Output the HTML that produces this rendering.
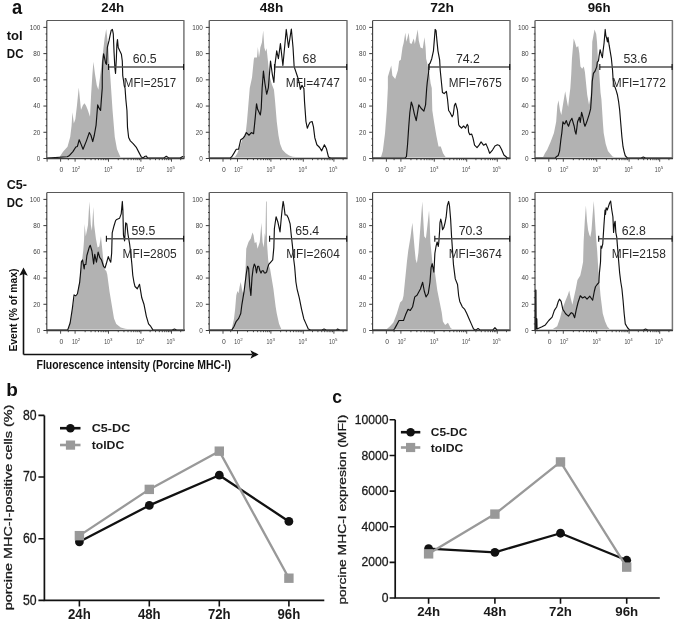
<!DOCTYPE html>
<html><head><meta charset="utf-8"><style>
html,body{margin:0;padding:0;background:#fff;width:675px;height:622px;overflow:hidden}
svg{display:block;filter:grayscale(1)}
text{font-family:"Liberation Sans", sans-serif}
</style></head><body>
<svg width="675" height="622" viewBox="0 0 675 622">
<rect width="675" height="622" fill="#fff"/>
<path d="M59.63,157 L59.63,157 L63.01,151.86 L67.51,146.7 L70.21,137.04 L71.56,125.79 L72.46,112.28 L73.81,123.54 L75.39,119.04 L76.96,105.53 L78.76,87.52 L79.89,98.78 L81.01,110.03 L82.81,105.53 L84.39,103.28 L85.96,105.53 L87.77,110.03 L90.02,116.78 L91.14,94.28 L92.27,76.27 L93.39,61.64 L94.97,74.02 L96.77,85.27 L98.34,89.77 L100.14,76.27 L101.72,62.77 L103.07,51.51 L104.65,38.01 L106.22,29 L108.02,44.76 L110.27,76.27 L112.52,110.03 L114.77,137.04 L117.03,149.28 L120.4,157 L120.4,157 Z" fill="#b2b2b2" stroke="none"/>
<path d="M47,158.1 L67.28,156.76 L69.53,155.47 L72.91,151.6 L75.84,146.96 L77.41,146.44 L79.21,139.74 L81.01,144.12 L83.04,149.28 L86.41,140.87 L89.34,132.54 L90.92,135.24 L92.72,141.54 L94.29,135.24 L96.09,125.11 L97.67,104.86 L99.47,108.91 L100.59,110.48 L101.14,102.6 L102.26,87.97 L102.26,75.59 L102.85,60.96 L103.61,53.76 L104.51,57.59 L105.64,63.22 L106.54,64.34 L107.35,47.46 L109.01,40.71 L110.14,35.08 L111.26,30.13 L112.39,29.45 L113.29,33.95 L114.1,53.09 L114.86,67.72 L115.54,73.34 L116.35,58.71 L116.89,44.08 L117.48,39.58 L118.24,47.46 L119.73,50.84 L121.39,54.21 L122.29,60.96 L122.74,75.59 L123.64,81.22 L124.23,85.72 L125.04,87.97 L125.83,99.23 L126.95,110.48 L127.51,127.36 L128.64,137.49 L130.33,140.87 L133.14,143.61 L136.52,147.73 L138.77,152.12 L141.33,157.02 L143.14,158.1 L144.49,156.51 L146.29,155.99 L147.64,158.1 L163.62,158.1 L166.32,156.25 L169.02,158.1 L180.05,158.1 L182.75,156.51 L185,157.02" fill="none" stroke="#111" stroke-width="1.15" stroke-linejoin="round"/>
<path d="M47.0,20.5 H184.3" fill="none" stroke="#595959" stroke-width="1.2"/>
<path d="M183.9,20.5 V158.5" fill="none" stroke="#767676" stroke-width="1.5"/>
<path d="M46.8,20.5 V159.0" fill="none" stroke="#3a3a3a" stroke-width="1.1"/>
<path d="M46.5,158.5 H184.4" fill="none" stroke="#3a3a3a" stroke-width="1.3"/>
<path d="M43.4,158.5 H47.0 M45.6,151.94 H47.0 M45.6,145.39 H47.0 M45.6,138.84 H47.0 M43.4,132.28 H47.0 M45.6,125.72 H47.0 M45.6,119.17 H47.0 M45.6,112.62 H47.0 M43.4,106.06 H47.0 M45.6,99.5 H47.0 M45.6,92.95 H47.0 M45.6,86.4 H47.0 M43.4,79.84 H47.0 M45.6,73.28 H47.0 M45.6,66.73 H47.0 M45.6,60.18 H47.0 M43.4,53.62 H47.0 M45.6,47.06 H47.0 M45.6,40.51 H47.0 M45.6,33.96 H47.0 M43.4,27.4 H47.0" stroke="#3a3a3a" stroke-width="1"/>
<text x="40.4" y="160.8" text-anchor="end" font-size="6.4" fill="#444">0</text>
<text x="40.4" y="134.58" text-anchor="end" font-size="6.4" fill="#444">20</text>
<text x="40.4" y="108.36" text-anchor="end" font-size="6.4" fill="#444">40</text>
<text x="40.4" y="82.14" text-anchor="end" font-size="6.4" fill="#444">60</text>
<text x="40.4" y="55.92" text-anchor="end" font-size="6.4" fill="#444">80</text>
<text x="40.4" y="29.7" text-anchor="end" font-size="6.4" fill="#444">100</text>
<path d="M47.1,158.5 v3.2 M60.6,158.5 v3.2 M75.1,158.5 v3.2 M108.5,158.5 v3.2 M140.9,158.5 v3.2 M171.5,158.5 v3.2 M68.3,158.5 v1.7 M85.15,158.5 v1.7 M91.04,158.5 v1.7 M95.21,158.5 v1.7 M98.45,158.5 v1.7 M101.09,158.5 v1.7 M103.33,158.5 v1.7 M105.26,158.5 v1.7 M106.97,158.5 v1.7 M118.25,158.5 v1.7 M123.96,158.5 v1.7 M128.01,158.5 v1.7 M131.15,158.5 v1.7 M133.71,158.5 v1.7 M135.88,158.5 v1.7 M137.76,158.5 v1.7 M139.42,158.5 v1.7 M150.11,158.5 v1.7 M155.5,158.5 v1.7 M159.32,158.5 v1.7 M162.29,158.5 v1.7 M164.71,158.5 v1.7 M166.76,158.5 v1.7 M168.53,158.5 v1.7 M170.1,158.5 v1.7 M180.71,158.5 v1.7" stroke="#3a3a3a" stroke-width="0.9"/>
<text x="61.4" y="171.7" text-anchor="middle" font-size="6.8" fill="#444">0</text>
<text x="71.9" y="171.7" font-size="6.8" fill="#444" textLength="5.8" lengthAdjust="spacingAndGlyphs">10</text>
<text x="77.8" y="168.8" font-size="4.4" fill="#444">2</text>
<text x="104.2" y="171.7" font-size="6.8" fill="#444" textLength="5.8" lengthAdjust="spacingAndGlyphs">10</text>
<text x="110.1" y="168.8" font-size="4.4" fill="#444">3</text>
<text x="136.2" y="171.7" font-size="6.8" fill="#444" textLength="5.8" lengthAdjust="spacingAndGlyphs">10</text>
<text x="142.1" y="168.8" font-size="4.4" fill="#444">4</text>
<text x="166.6" y="171.7" font-size="6.8" fill="#444" textLength="5.8" lengthAdjust="spacingAndGlyphs">10</text>
<text x="172.5" y="168.8" font-size="4.4" fill="#444">5</text>
<path d="M108.5,67 H183.9" stroke="#505050" stroke-width="1.4" fill="none"/>
<path d="M108.5,64 v6 M183.6,64 v6" stroke="#111" stroke-width="1.1" fill="none"/>
<text x="144.7" y="63" text-anchor="middle" font-size="12.3" fill="#2a2a2a">60.5</text>
<text x="123.8" y="86.8" font-size="12.3" fill="#2a2a2a" textLength="52.4" lengthAdjust="spacingAndGlyphs">MFI=2517</text>
<path d="M234.01,157 L234.01,157 L235.14,156.76 L237.39,153.15 L240.76,144.12 L243.01,137.49 L245.83,131.86 L246.95,121.74 L248.08,108.23 L249.2,94.73 L249.77,87.97 L252.02,77.4 L253.82,59.39 L254.27,57.59 L256.97,57.59 L257.87,47.01 L258.99,57.59 L259.89,51.51 L260.34,47.46 L261.92,42.51 L263.2,30.58 L264.33,47.46 L265.52,51.51 L266.58,48.14 L267.7,58.71 L269.35,75.59 L271.82,84.15 L273.96,89.77 L275.09,101.48 L276.77,121.74 L278.46,135.24 L280.15,144.12 L282.4,149.8 L285.78,153.15 L289.15,155.47 L292.53,156.76 L295.91,157 L295.91,157 Z" fill="#b2b2b2" stroke="none"/>
<path d="M209.4,158.1 L229.96,158.1 L231.76,156.76 L234.01,153.15 L236.26,149.28 L238.51,149.28 L240.76,139.74 L243.01,138.17 L244.59,136.37 L246.39,132.54 L249.09,135.24 L251.34,132.54 L253.59,133.67 L254.49,125.11 L255.39,116.11 L256.52,103.73 L257.64,109.36 L260.34,114.98 L261.24,108.23 L262.14,87.97 L263.43,71.09 L264.85,83.02 L266.65,94.28 L268.33,87.97 L270.52,60.96 L272.27,74.02 L273.89,82.35 L275.02,64.34 L276.71,50.84 L278.4,58.71 L280.42,43.63 L282.9,65.47 L286.27,29.45 L288.52,47.46 L291.34,29 L293.03,47.46 L294.15,66.59 L297.53,76.72 L299.28,83.02 L300.41,89.32 L301.98,85.27 L303.9,88.65 L304.57,102.38 L305.95,121.51 L307.32,128.26 L308.74,124.66 L310.06,122.19 L312.11,121.51 L313.46,126.91 L314.84,137.94 L316.88,144.77 L319.63,147.48 L321.68,150.83 L322.92,147.99 L324.42,144.77 L326.47,148.77 L328.52,157.02 L330.57,158.1 L347,158.1" fill="none" stroke="#111" stroke-width="1.15" stroke-linejoin="round"/>
<path d="M209.4,20.5 H347.4" fill="none" stroke="#595959" stroke-width="1.2"/>
<path d="M347.0,20.5 V158.5" fill="none" stroke="#767676" stroke-width="1.5"/>
<path d="M209.20000000000002,20.5 V159.0" fill="none" stroke="#3a3a3a" stroke-width="1.1"/>
<path d="M208.9,158.5 H347.5" fill="none" stroke="#3a3a3a" stroke-width="1.3"/>
<path d="M205.8,158.5 H209.4 M208.0,151.94 H209.4 M208.0,145.39 H209.4 M208.0,138.84 H209.4 M205.8,132.28 H209.4 M208.0,125.72 H209.4 M208.0,119.17 H209.4 M208.0,112.62 H209.4 M205.8,106.06 H209.4 M208.0,99.5 H209.4 M208.0,92.95 H209.4 M208.0,86.4 H209.4 M205.8,79.84 H209.4 M208.0,73.28 H209.4 M208.0,66.73 H209.4 M208.0,60.18 H209.4 M205.8,53.62 H209.4 M208.0,47.06 H209.4 M208.0,40.51 H209.4 M208.0,33.96 H209.4 M205.8,27.4 H209.4" stroke="#3a3a3a" stroke-width="1"/>
<text x="202.8" y="160.8" text-anchor="end" font-size="6.4" fill="#444">0</text>
<text x="202.8" y="134.58" text-anchor="end" font-size="6.4" fill="#444">20</text>
<text x="202.8" y="108.36" text-anchor="end" font-size="6.4" fill="#444">40</text>
<text x="202.8" y="82.14" text-anchor="end" font-size="6.4" fill="#444">60</text>
<text x="202.8" y="55.92" text-anchor="end" font-size="6.4" fill="#444">80</text>
<text x="202.8" y="29.7" text-anchor="end" font-size="6.4" fill="#444">100</text>
<path d="M209.5,158.5 v3.2 M223,158.5 v3.2 M237.5,158.5 v3.2 M270.9,158.5 v3.2 M303.3,158.5 v3.2 M333.9,158.5 v3.2 M230.7,158.5 v1.7 M247.55,158.5 v1.7 M253.44,158.5 v1.7 M257.61,158.5 v1.7 M260.85,158.5 v1.7 M263.49,158.5 v1.7 M265.73,158.5 v1.7 M267.66,158.5 v1.7 M269.37,158.5 v1.7 M280.65,158.5 v1.7 M286.36,158.5 v1.7 M290.41,158.5 v1.7 M293.55,158.5 v1.7 M296.11,158.5 v1.7 M298.28,158.5 v1.7 M300.16,158.5 v1.7 M301.82,158.5 v1.7 M312.51,158.5 v1.7 M317.9,158.5 v1.7 M321.72,158.5 v1.7 M324.69,158.5 v1.7 M327.11,158.5 v1.7 M329.16,158.5 v1.7 M330.93,158.5 v1.7 M332.5,158.5 v1.7 M343.11,158.5 v1.7" stroke="#3a3a3a" stroke-width="0.9"/>
<text x="223.8" y="171.7" text-anchor="middle" font-size="6.8" fill="#444">0</text>
<text x="234.3" y="171.7" font-size="6.8" fill="#444" textLength="5.8" lengthAdjust="spacingAndGlyphs">10</text>
<text x="240.2" y="168.8" font-size="4.4" fill="#444">2</text>
<text x="266.6" y="171.7" font-size="6.8" fill="#444" textLength="5.8" lengthAdjust="spacingAndGlyphs">10</text>
<text x="272.5" y="168.8" font-size="4.4" fill="#444">3</text>
<text x="298.6" y="171.7" font-size="6.8" fill="#444" textLength="5.8" lengthAdjust="spacingAndGlyphs">10</text>
<text x="304.5" y="168.8" font-size="4.4" fill="#444">4</text>
<text x="329" y="171.7" font-size="6.8" fill="#444" textLength="5.8" lengthAdjust="spacingAndGlyphs">10</text>
<text x="334.9" y="168.8" font-size="4.4" fill="#444">5</text>
<path d="M274.5,67 H347.0" stroke="#505050" stroke-width="1.4" fill="none"/>
<path d="M274.5,64 v6 M346.7,64 v6" stroke="#111" stroke-width="1.1" fill="none"/>
<text x="309.4" y="63" text-anchor="middle" font-size="12.3" fill="#2a2a2a">68</text>
<text x="285.8" y="86.8" font-size="12.3" fill="#2a2a2a" textLength="54" lengthAdjust="spacingAndGlyphs">MFI=4747</text>
<path d="M380.13,157 L380.13,157 L381.12,156.64 L382.81,150.99 L385.06,132.99 L386.75,110.48 L387.87,87.97 L387.87,76.72 L391.25,65.47 L392.37,75.59 L395.19,78.97 L398,69.97 L399.13,60.96 L400.81,59.84 L402.5,47.46 L403.63,42.96 L405.32,32.83 L406.44,41.83 L408.69,32.83 L409.82,42.96 L411.5,44.08 L413.76,38.46 L414.88,44.08 L417.69,29.45 L418.82,40.71 L420.51,47.46 L422.76,48.59 L424.45,37.33 L425.57,47.46 L426.14,58.71 L427.26,63.22 L428.39,69.97 L429.51,74.47 L430.64,83.47 L431.76,87.97 L432.32,110.48 L434.01,121.74 L436.26,135.24 L438.51,146.44 L440.77,146.44 L443.02,153.15 L445.27,156.64 L446.53,157 L446.53,157 Z" fill="#b2b2b2" stroke="none"/>
<path d="M372.8,158.1 L404.89,158.1 L406.44,156.64 L407.57,144.25 L408.69,127.36 L409.82,112.73 L411.28,102.06 L412.63,105.98 L414.32,113.86 L416.23,120.61 L417.69,111.61 L418.82,104.86 L421.07,108.23 L423.88,111.07 L425.57,104.86 L426.7,87.97 L427.26,82.35 L428.61,72.22 L428.95,64.34 L430.07,63.22 L431.76,58.71 L433.45,50.84 L434.35,39.58 L435.14,29.45 L436.04,30.58 L436.83,39.58 L437.95,50.84 L439.64,59.84 L440.2,69.97 L441.33,81.22 L442.45,92.48 L444.14,93.6 L446.39,91.35 L447.52,99.23 L448.64,110.48 L449.9,112.28 L451.03,114.53 L452.15,116.78 L453.28,114.53 L454.41,105.53 L455.53,103.28 L457.42,110.03 L457.87,114.98 L458.68,124.8 L459.36,126.01 L461.54,128.04 L463.57,126.01 L465.61,128.04 L467.23,124.37 L468.14,126.01 L468.59,132.09 L469.69,134.57 L471.71,134.12 L472.95,137.83 L474.57,145.16 L477.03,147.63 L479.05,145.16 L481.1,141.9 L483.53,145.16 L485.98,143.87 L487.6,147.63 L489.65,153.31 L492.51,150.06 L494.96,145.93 L497.4,144.77 L499.44,145.57 L501.47,149.28 L503.92,154.96 L507.19,157.8 L510,158.1" fill="none" stroke="#111" stroke-width="1.15" stroke-linejoin="round"/>
<path d="M372.8,20.5 H510.4" fill="none" stroke="#595959" stroke-width="1.2"/>
<path d="M510.0,20.5 V158.5" fill="none" stroke="#767676" stroke-width="1.5"/>
<path d="M372.6,20.5 V159.0" fill="none" stroke="#3a3a3a" stroke-width="1.1"/>
<path d="M372.3,158.5 H510.5" fill="none" stroke="#3a3a3a" stroke-width="1.3"/>
<path d="M369.2,158.5 H372.8 M371.40000000000003,151.94 H372.8 M371.40000000000003,145.39 H372.8 M371.40000000000003,138.84 H372.8 M369.2,132.28 H372.8 M371.40000000000003,125.72 H372.8 M371.40000000000003,119.17 H372.8 M371.40000000000003,112.62 H372.8 M369.2,106.06 H372.8 M371.40000000000003,99.5 H372.8 M371.40000000000003,92.95 H372.8 M371.40000000000003,86.4 H372.8 M369.2,79.84 H372.8 M371.40000000000003,73.28 H372.8 M371.40000000000003,66.73 H372.8 M371.40000000000003,60.18 H372.8 M369.2,53.62 H372.8 M371.40000000000003,47.06 H372.8 M371.40000000000003,40.51 H372.8 M371.40000000000003,33.96 H372.8 M369.2,27.4 H372.8" stroke="#3a3a3a" stroke-width="1"/>
<text x="366.2" y="160.8" text-anchor="end" font-size="6.4" fill="#444">0</text>
<text x="366.2" y="134.58" text-anchor="end" font-size="6.4" fill="#444">20</text>
<text x="366.2" y="108.36" text-anchor="end" font-size="6.4" fill="#444">40</text>
<text x="366.2" y="82.14" text-anchor="end" font-size="6.4" fill="#444">60</text>
<text x="366.2" y="55.92" text-anchor="end" font-size="6.4" fill="#444">80</text>
<text x="366.2" y="29.7" text-anchor="end" font-size="6.4" fill="#444">100</text>
<path d="M372.9,158.5 v3.2 M386.4,158.5 v3.2 M400.9,158.5 v3.2 M434.3,158.5 v3.2 M466.7,158.5 v3.2 M497.3,158.5 v3.2 M394.1,158.5 v1.7 M410.95,158.5 v1.7 M416.84,158.5 v1.7 M421.01,158.5 v1.7 M424.25,158.5 v1.7 M426.89,158.5 v1.7 M429.13,158.5 v1.7 M431.06,158.5 v1.7 M432.77,158.5 v1.7 M444.05,158.5 v1.7 M449.76,158.5 v1.7 M453.81,158.5 v1.7 M456.95,158.5 v1.7 M459.51,158.5 v1.7 M461.68,158.5 v1.7 M463.56,158.5 v1.7 M465.22,158.5 v1.7 M475.91,158.5 v1.7 M481.3,158.5 v1.7 M485.12,158.5 v1.7 M488.09,158.5 v1.7 M490.51,158.5 v1.7 M492.56,158.5 v1.7 M494.33,158.5 v1.7 M495.9,158.5 v1.7 M506.51,158.5 v1.7" stroke="#3a3a3a" stroke-width="0.9"/>
<text x="387.2" y="171.7" text-anchor="middle" font-size="6.8" fill="#444">0</text>
<text x="397.7" y="171.7" font-size="6.8" fill="#444" textLength="5.8" lengthAdjust="spacingAndGlyphs">10</text>
<text x="403.6" y="168.8" font-size="4.4" fill="#444">2</text>
<text x="430" y="171.7" font-size="6.8" fill="#444" textLength="5.8" lengthAdjust="spacingAndGlyphs">10</text>
<text x="435.9" y="168.8" font-size="4.4" fill="#444">3</text>
<text x="462" y="171.7" font-size="6.8" fill="#444" textLength="5.8" lengthAdjust="spacingAndGlyphs">10</text>
<text x="467.9" y="168.8" font-size="4.4" fill="#444">4</text>
<text x="492.4" y="171.7" font-size="6.8" fill="#444" textLength="5.8" lengthAdjust="spacingAndGlyphs">10</text>
<text x="498.3" y="168.8" font-size="4.4" fill="#444">5</text>
<path d="M429,67 H510.0" stroke="#505050" stroke-width="1.4" fill="none"/>
<path d="M429,64 v6 M509.7,64 v6" stroke="#111" stroke-width="1.1" fill="none"/>
<text x="467.9" y="63" text-anchor="middle" font-size="12.3" fill="#2a2a2a">74.2</text>
<text x="448.8" y="86.8" font-size="12.3" fill="#2a2a2a" textLength="53" lengthAdjust="spacingAndGlyphs">MFI=7675</text>
<path d="M543.13,157 L543.13,157 L544.93,153.15 L547.18,149.8 L550.56,142.06 L553.93,132.99 L556.18,121.74 L557.31,105.98 L558.43,100.35 L560.01,110.48 L561.36,114.98 L562.94,104.86 L565.19,91.35 L566.99,101.48 L568.11,107.11 L569.24,96.98 L570.36,87.97 L571.26,74.02 L571.94,58.71 L573.69,38.46 L574.82,41.83 L576.51,47.46 L578.2,45.88 L579.32,53.09 L580.45,66.59 L582.14,68.84 L583.82,66.59 L584.95,72.22 L586.07,83.47 L587.2,94.73 L589,104.63 L590.62,96.53 L591.7,69.97 L592.26,41.83 L594.51,29.45 L596.2,33.95 L596.99,41.83 L597.89,58.71 L599.02,69.97 L600.52,92.48 L601.42,99.23 L602.1,110.03 L603,123.99 L603.68,132.99 L605.7,144.12 L607.95,151.09 L612.45,156.51 L614.03,157 L614.03,157 Z" fill="#b2b2b2" stroke="none"/>
<path d="M535.2,158.1 L555.06,158.1 L556.41,156.76 L558.21,155.47 L559.56,151.09 L560.91,139.29 L561.81,132.99 L562.94,121.74 L563.84,123.54 L564.74,123.99 L565.64,121.74 L566.31,120.61 L567.44,123.99 L568.56,126.24 L570.14,121.29 L571.94,118.36 L573.06,122.41 L574.19,126.24 L575.09,131.41 L575.99,134.12 L576.89,127.59 L577.57,121.74 L578.69,119.04 L579.37,117.23 L580.27,122.41 L581.62,112.28 L582.52,115.66 L583.19,118.36 L584.09,123.54 L584.99,126.24 L586.12,123.54 L587.2,120.61 L589.27,114.08 L590.62,108.91 L591.3,99.23 L591.75,92.03 L592.26,81.22 L593.39,73.34 L595.08,71.09 L596.77,66.59 L597.33,62.09 L598.45,60.96 L599.02,56.46 L600.14,49.71 L601.27,54.21 L602.39,57.59 L602.95,51.96 L604.08,42.96 L605.21,29.45 L605.77,35.08 L606.67,38.46 L607.46,41.83 L608.02,37.33 L609.14,45.21 L610.27,51.96 L611.4,58.71 L612.52,69.97 L613.08,78.97 L614.21,85.72 L615.15,87.52 L616.28,90.9 L617.41,94.73 L618.53,101.03 L619.66,110.03 L620.78,123.54 L621.91,137.04 L623.03,146.7 L624.16,151.86 L625.28,155.73 L627.53,158.1 L641.04,158.1 L643.29,157.02 L645.54,158.1 L673,158.1" fill="none" stroke="#111" stroke-width="1.15" stroke-linejoin="round"/>
<path d="M535.2,20.5 H672.8" fill="none" stroke="#595959" stroke-width="1.2"/>
<path d="M672.4,20.5 V158.5" fill="none" stroke="#767676" stroke-width="1.5"/>
<path d="M535.0,20.5 V159.0" fill="none" stroke="#3a3a3a" stroke-width="1.1"/>
<path d="M534.7,158.5 H672.9" fill="none" stroke="#3a3a3a" stroke-width="1.3"/>
<path d="M531.6,158.5 H535.2 M533.8000000000001,151.94 H535.2 M533.8000000000001,145.39 H535.2 M533.8000000000001,138.84 H535.2 M531.6,132.28 H535.2 M533.8000000000001,125.72 H535.2 M533.8000000000001,119.17 H535.2 M533.8000000000001,112.62 H535.2 M531.6,106.06 H535.2 M533.8000000000001,99.5 H535.2 M533.8000000000001,92.95 H535.2 M533.8000000000001,86.4 H535.2 M531.6,79.84 H535.2 M533.8000000000001,73.28 H535.2 M533.8000000000001,66.73 H535.2 M533.8000000000001,60.18 H535.2 M531.6,53.62 H535.2 M533.8000000000001,47.06 H535.2 M533.8000000000001,40.51 H535.2 M533.8000000000001,33.96 H535.2 M531.6,27.4 H535.2" stroke="#3a3a3a" stroke-width="1"/>
<text x="528.6" y="160.8" text-anchor="end" font-size="6.4" fill="#444">0</text>
<text x="528.6" y="134.58" text-anchor="end" font-size="6.4" fill="#444">20</text>
<text x="528.6" y="108.36" text-anchor="end" font-size="6.4" fill="#444">40</text>
<text x="528.6" y="82.14" text-anchor="end" font-size="6.4" fill="#444">60</text>
<text x="528.6" y="55.92" text-anchor="end" font-size="6.4" fill="#444">80</text>
<text x="528.6" y="29.7" text-anchor="end" font-size="6.4" fill="#444">100</text>
<path d="M535.3,158.5 v3.2 M548.8,158.5 v3.2 M563.3,158.5 v3.2 M596.7,158.5 v3.2 M629.1,158.5 v3.2 M659.7,158.5 v3.2 M556.5,158.5 v1.7 M573.35,158.5 v1.7 M579.24,158.5 v1.7 M583.41,158.5 v1.7 M586.65,158.5 v1.7 M589.29,158.5 v1.7 M591.53,158.5 v1.7 M593.46,158.5 v1.7 M595.17,158.5 v1.7 M606.45,158.5 v1.7 M612.16,158.5 v1.7 M616.21,158.5 v1.7 M619.35,158.5 v1.7 M621.91,158.5 v1.7 M624.08,158.5 v1.7 M625.96,158.5 v1.7 M627.62,158.5 v1.7 M638.31,158.5 v1.7 M643.7,158.5 v1.7 M647.52,158.5 v1.7 M650.49,158.5 v1.7 M652.91,158.5 v1.7 M654.96,158.5 v1.7 M656.73,158.5 v1.7 M658.3,158.5 v1.7 M668.91,158.5 v1.7" stroke="#3a3a3a" stroke-width="0.9"/>
<text x="549.6" y="171.7" text-anchor="middle" font-size="6.8" fill="#444">0</text>
<text x="560.1" y="171.7" font-size="6.8" fill="#444" textLength="5.8" lengthAdjust="spacingAndGlyphs">10</text>
<text x="566" y="168.8" font-size="4.4" fill="#444">2</text>
<text x="592.4" y="171.7" font-size="6.8" fill="#444" textLength="5.8" lengthAdjust="spacingAndGlyphs">10</text>
<text x="598.3" y="168.8" font-size="4.4" fill="#444">3</text>
<text x="624.4" y="171.7" font-size="6.8" fill="#444" textLength="5.8" lengthAdjust="spacingAndGlyphs">10</text>
<text x="630.3" y="168.8" font-size="4.4" fill="#444">4</text>
<text x="654.8" y="171.7" font-size="6.8" fill="#444" textLength="5.8" lengthAdjust="spacingAndGlyphs">10</text>
<text x="660.7" y="168.8" font-size="4.4" fill="#444">5</text>
<path d="M599.8,67 H672.4" stroke="#505050" stroke-width="1.4" fill="none"/>
<path d="M599.8,64 v6 M672.1,64 v6" stroke="#111" stroke-width="1.1" fill="none"/>
<text x="635.4" y="63" text-anchor="middle" font-size="12.3" fill="#2a2a2a">53.6</text>
<text x="611.8" y="86.8" font-size="12.3" fill="#2a2a2a" textLength="54" lengthAdjust="spacingAndGlyphs">MFI=1772</text>
<path d="M68.63,329 L68.63,329 L71.24,316.25 L74.62,297.11 L76.87,295.99 L79.68,279.11 L80.81,268.98 L82.14,259.52 L83.26,250.52 L84.07,239.72 L84.64,223.96 L85.76,236.34 L88.01,225.09 L89.36,201.45 L90.83,225.09 L91.95,230.71 L93.3,207.08 L94.2,225.09 L95.89,238.59 L97.58,247.59 L99.27,246.47 L100.95,236.34 L102.08,247.59 L103.77,264.48 L105.01,270.1 L106.22,270.78 L107.26,274.6 L109.51,291.49 L111.76,304.99 L114.01,318.44 L116.26,324.12 L120.76,327.47 L125.26,328.64 L127.15,329 L127.15,329 Z" fill="#b2b2b2" stroke="none"/>
<path d="M47,330.1 L67.06,330.1 L67.87,329.49 L70.12,322.99 L72.37,308.37 L74.06,294.86 L75.75,295.99 L77.43,293.74 L79.68,282.48 L80.81,270.1 L81.37,261.77 L82.5,259.97 L84.19,268.98 L84.64,264.48 L85.87,264.48 L86.89,255.47 L89.14,247.59 L90.26,245.34 L91.95,250.97 L93.64,264.03 L94.77,254.35 L96.45,262.23 L98.14,252.1 L99.83,257.72 L101.52,259.97 L103.52,266.28 L105.01,267.85 L106.22,264.03 L108.27,256.6 L109.37,259.52 L110.75,262.23 L111.65,253.22 L112.21,232.96 L113.9,226.21 L115.59,220.59 L116.71,219.46 L119.52,218.33 L121.21,213.83 L122.34,201.45 L122.9,210.46 L123.46,235.22 L124.59,240.84 L125.71,222.84 L126.84,223.96 L127.96,234.09 L129.65,244.22 L130.78,253.22 L131.9,264.48 L132.78,275.28 L133.91,282.03 L135.03,286.53 L137.28,288.78 L138.41,286.53 L139.53,284.28 L140.66,291.04 L141.78,297.79 L144.04,304.54 L146.29,316.12 L148.54,323.86 L150.79,326.44 L153.04,330.1 L172.17,330.1 L174.42,329.02 L176.67,330.1 L185,330.1" fill="none" stroke="#111" stroke-width="1.15" stroke-linejoin="round"/>
<path d="M47.0,192.5 H184.3" fill="none" stroke="#595959" stroke-width="1.2"/>
<path d="M183.9,192.5 V330.5" fill="none" stroke="#767676" stroke-width="1.5"/>
<path d="M46.8,192.5 V331.0" fill="none" stroke="#3a3a3a" stroke-width="1.1"/>
<path d="M46.5,330.5 H184.4" fill="none" stroke="#3a3a3a" stroke-width="1.3"/>
<path d="M43.4,330.5 H47.0 M45.6,323.94 H47.0 M45.6,317.39 H47.0 M45.6,310.83 H47.0 M43.4,304.28 H47.0 M45.6,297.73 H47.0 M45.6,291.17 H47.0 M45.6,284.62 H47.0 M43.4,278.06 H47.0 M45.6,271.5 H47.0 M45.6,264.95 H47.0 M45.6,258.39 H47.0 M43.4,251.84 H47.0 M45.6,245.28 H47.0 M45.6,238.73 H47.0 M45.6,232.18 H47.0 M43.4,225.62 H47.0 M45.6,219.06 H47.0 M45.6,212.51 H47.0 M45.6,205.96 H47.0 M43.4,199.4 H47.0" stroke="#3a3a3a" stroke-width="1"/>
<text x="40.4" y="332.8" text-anchor="end" font-size="6.4" fill="#444">0</text>
<text x="40.4" y="306.58" text-anchor="end" font-size="6.4" fill="#444">20</text>
<text x="40.4" y="280.36" text-anchor="end" font-size="6.4" fill="#444">40</text>
<text x="40.4" y="254.14" text-anchor="end" font-size="6.4" fill="#444">60</text>
<text x="40.4" y="227.92" text-anchor="end" font-size="6.4" fill="#444">80</text>
<text x="40.4" y="201.7" text-anchor="end" font-size="6.4" fill="#444">100</text>
<path d="M47.1,330.5 v3.2 M60.6,330.5 v3.2 M75.1,330.5 v3.2 M108.5,330.5 v3.2 M140.9,330.5 v3.2 M171.5,330.5 v3.2 M68.3,330.5 v1.7 M85.15,330.5 v1.7 M91.04,330.5 v1.7 M95.21,330.5 v1.7 M98.45,330.5 v1.7 M101.09,330.5 v1.7 M103.33,330.5 v1.7 M105.26,330.5 v1.7 M106.97,330.5 v1.7 M118.25,330.5 v1.7 M123.96,330.5 v1.7 M128.01,330.5 v1.7 M131.15,330.5 v1.7 M133.71,330.5 v1.7 M135.88,330.5 v1.7 M137.76,330.5 v1.7 M139.42,330.5 v1.7 M150.11,330.5 v1.7 M155.5,330.5 v1.7 M159.32,330.5 v1.7 M162.29,330.5 v1.7 M164.71,330.5 v1.7 M166.76,330.5 v1.7 M168.53,330.5 v1.7 M170.1,330.5 v1.7 M180.71,330.5 v1.7" stroke="#3a3a3a" stroke-width="0.9"/>
<text x="61.4" y="343.7" text-anchor="middle" font-size="6.8" fill="#444">0</text>
<text x="71.9" y="343.7" font-size="6.8" fill="#444" textLength="5.8" lengthAdjust="spacingAndGlyphs">10</text>
<text x="77.8" y="340.8" font-size="4.4" fill="#444">2</text>
<text x="104.2" y="343.7" font-size="6.8" fill="#444" textLength="5.8" lengthAdjust="spacingAndGlyphs">10</text>
<text x="110.1" y="340.8" font-size="4.4" fill="#444">3</text>
<text x="136.2" y="343.7" font-size="6.8" fill="#444" textLength="5.8" lengthAdjust="spacingAndGlyphs">10</text>
<text x="142.1" y="340.8" font-size="4.4" fill="#444">4</text>
<text x="166.6" y="343.7" font-size="6.8" fill="#444" textLength="5.8" lengthAdjust="spacingAndGlyphs">10</text>
<text x="172.5" y="340.8" font-size="4.4" fill="#444">5</text>
<path d="M106.4,238.7 H183.9" stroke="#505050" stroke-width="1.4" fill="none"/>
<path d="M106.4,235.7 v6 M183.6,235.7 v6" stroke="#111" stroke-width="1.1" fill="none"/>
<text x="143.4" y="234.7" text-anchor="middle" font-size="12.3" fill="#2a2a2a">59.5</text>
<text x="122.6" y="258.1" font-size="12.3" fill="#2a2a2a" textLength="54.1" lengthAdjust="spacingAndGlyphs">MFI=2805</text>
<path d="M231.76,329 L231.76,329 L234.01,318.7 L235.14,309.04 L236.26,295.54 L237.39,291.04 L238.51,293.29 L239.64,286.53 L240.76,282.03 L241.89,288.78 L243.01,293.29 L244.14,291.04 L245.26,277.53 L246.25,248.72 L248.5,241.97 L250.76,238.59 L252.44,232.51 L253.57,235.22 L254.69,243.09 L256.38,241.97 L257.51,248.72 L259.76,241.97 L260.57,232.51 L261.45,222.84 L261.92,232.51 L262.57,241.97 L263.7,247.59 L264.82,232.96 L265.41,237.02 L266.04,201.45 L266.71,201.45 L267.07,244.22 L268.2,259.97 L269.12,266.28 L270.02,268.53 L271.15,275.28 L272.27,282.03 L273.4,288.78 L274.52,297.79 L275.65,306.79 L276.77,313.54 L279.03,323.86 L281.28,329 L283.53,329 L283.53,329 Z" fill="#b2b2b2" stroke="none"/>
<path d="M209.4,330.1 L229.51,330.1 L231.76,330.1 L234.01,326.44 L236.26,321.28 L238.51,318.7 L239.64,316.12 L240.76,313.54 L241.89,304.54 L243.01,297.79 L244.14,291.04 L245.26,282.03 L246.39,273.03 L247.51,266.28 L248.64,268.53 L249.77,286.53 L250.89,295.54 L252.02,277.53 L253.14,268.53 L254.27,264.03 L255.39,266.28 L256.52,273.03 L257.64,266.28 L258.77,266.28 L259.89,270.78 L261.02,273.03 L262.14,270.78 L263.27,270.78 L264.4,273.03 L265.52,273.03 L266.65,271.9 L267.77,267.4 L268.76,264.48 L271.01,261.77 L272.7,259.97 L273.83,247.59 L274.39,228.46 L276.08,216.76 L277.77,221.71 L280.02,231.84 L281.14,219.46 L282.27,208.21 L283.17,201.45 L283.95,205.95 L285.08,214.96 L286.77,214.96 L288.46,218.33 L290.14,223.96 L291.27,235.22 L292.4,245.34 L293.52,257.72 L294.65,266.73 L295.91,282.03 L297.03,288.78 L299.28,297.79 L301.53,309.04 L303.78,318.7 L306.04,323.86 L308.29,329.02 L310.54,330.1 L321.79,330.1 L324.04,329.02 L326.29,330.1 L336.42,330.1 L337.55,329.02 L339.8,330.1 L347,330.1" fill="none" stroke="#111" stroke-width="1.15" stroke-linejoin="round"/>
<path d="M209.4,192.5 H347.4" fill="none" stroke="#595959" stroke-width="1.2"/>
<path d="M347.0,192.5 V330.5" fill="none" stroke="#767676" stroke-width="1.5"/>
<path d="M209.20000000000002,192.5 V331.0" fill="none" stroke="#3a3a3a" stroke-width="1.1"/>
<path d="M208.9,330.5 H347.5" fill="none" stroke="#3a3a3a" stroke-width="1.3"/>
<path d="M205.8,330.5 H209.4 M208.0,323.94 H209.4 M208.0,317.39 H209.4 M208.0,310.83 H209.4 M205.8,304.28 H209.4 M208.0,297.73 H209.4 M208.0,291.17 H209.4 M208.0,284.62 H209.4 M205.8,278.06 H209.4 M208.0,271.5 H209.4 M208.0,264.95 H209.4 M208.0,258.39 H209.4 M205.8,251.84 H209.4 M208.0,245.28 H209.4 M208.0,238.73 H209.4 M208.0,232.18 H209.4 M205.8,225.62 H209.4 M208.0,219.06 H209.4 M208.0,212.51 H209.4 M208.0,205.96 H209.4 M205.8,199.4 H209.4" stroke="#3a3a3a" stroke-width="1"/>
<text x="202.8" y="332.8" text-anchor="end" font-size="6.4" fill="#444">0</text>
<text x="202.8" y="306.58" text-anchor="end" font-size="6.4" fill="#444">20</text>
<text x="202.8" y="280.36" text-anchor="end" font-size="6.4" fill="#444">40</text>
<text x="202.8" y="254.14" text-anchor="end" font-size="6.4" fill="#444">60</text>
<text x="202.8" y="227.92" text-anchor="end" font-size="6.4" fill="#444">80</text>
<text x="202.8" y="201.7" text-anchor="end" font-size="6.4" fill="#444">100</text>
<path d="M209.5,330.5 v3.2 M223,330.5 v3.2 M237.5,330.5 v3.2 M270.9,330.5 v3.2 M303.3,330.5 v3.2 M333.9,330.5 v3.2 M230.7,330.5 v1.7 M247.55,330.5 v1.7 M253.44,330.5 v1.7 M257.61,330.5 v1.7 M260.85,330.5 v1.7 M263.49,330.5 v1.7 M265.73,330.5 v1.7 M267.66,330.5 v1.7 M269.37,330.5 v1.7 M280.65,330.5 v1.7 M286.36,330.5 v1.7 M290.41,330.5 v1.7 M293.55,330.5 v1.7 M296.11,330.5 v1.7 M298.28,330.5 v1.7 M300.16,330.5 v1.7 M301.82,330.5 v1.7 M312.51,330.5 v1.7 M317.9,330.5 v1.7 M321.72,330.5 v1.7 M324.69,330.5 v1.7 M327.11,330.5 v1.7 M329.16,330.5 v1.7 M330.93,330.5 v1.7 M332.5,330.5 v1.7 M343.11,330.5 v1.7" stroke="#3a3a3a" stroke-width="0.9"/>
<text x="223.8" y="343.7" text-anchor="middle" font-size="6.8" fill="#444">0</text>
<text x="234.3" y="343.7" font-size="6.8" fill="#444" textLength="5.8" lengthAdjust="spacingAndGlyphs">10</text>
<text x="240.2" y="340.8" font-size="4.4" fill="#444">2</text>
<text x="266.6" y="343.7" font-size="6.8" fill="#444" textLength="5.8" lengthAdjust="spacingAndGlyphs">10</text>
<text x="272.5" y="340.8" font-size="4.4" fill="#444">3</text>
<text x="298.6" y="343.7" font-size="6.8" fill="#444" textLength="5.8" lengthAdjust="spacingAndGlyphs">10</text>
<text x="304.5" y="340.8" font-size="4.4" fill="#444">4</text>
<text x="329" y="343.7" font-size="6.8" fill="#444" textLength="5.8" lengthAdjust="spacingAndGlyphs">10</text>
<text x="334.9" y="340.8" font-size="4.4" fill="#444">5</text>
<path d="M269.6,238.7 H347.0" stroke="#505050" stroke-width="1.4" fill="none"/>
<path d="M269.6,235.7 v6 M346.7,235.7 v6" stroke="#111" stroke-width="1.1" fill="none"/>
<text x="307.2" y="234.7" text-anchor="middle" font-size="12.3" fill="#2a2a2a">65.4</text>
<text x="286.2" y="258.1" font-size="12.3" fill="#2a2a2a" textLength="53.6" lengthAdjust="spacingAndGlyphs">MFI=2604</text>
<path d="M386.88,329 L386.88,329 L390.01,326.18 L393.39,322.57 L396.76,313.8 L400.14,302.51 L402.39,300.26 L403.51,295.76 L404.64,284.51 L406.33,267.63 L406.89,262 L408.26,250.52 L410.51,237.02 L411.64,228.01 L412.38,222.84 L413.22,232.51 L414.57,248.27 L415.69,259.52 L416.88,263.35 L418.39,252.77 L419.97,232.51 L421.32,214.51 L422.29,201.45 L423.12,216.76 L424.2,236.34 L425.89,238.59 L427.4,225.76 L429.04,210.46 L429.65,221.26 L430.39,241.97 L432.08,259.52 L433.47,268.53 L435.03,273.25 L437.28,290.14 L439.53,301.39 L441.78,312.64 L442.9,321.54 L445.15,324.89 L447.97,322.83 L450.78,328.25 L452.15,329 L452.15,329 Z" fill="#b2b2b2" stroke="none"/>
<path d="M372.8,330.1 L393.41,330.1 L394.51,328.87 L396.56,325.15 L399.01,320.51 L403.51,320.51 L405.56,314.83 L408.02,309.27 L410.27,310.39 L412.52,307.02 L414.77,296.89 L417.02,295.2 L420.4,289.01 L422.65,282.26 L424.33,291.26 L426.02,296.89 L428.27,293.51 L429.96,282.26 L431.09,267.63 L432.21,263.69 L433.9,272.13 L434.89,253.22 L436.02,246.47 L437.14,241.97 L438.27,246.47 L438.83,241.97 L439.62,230.71 L439.95,222.84 L440.74,219.01 L441.64,222.84 L442.54,229.59 L443.89,227.34 L445.02,222.84 L446.14,217.21 L447.27,205.95 L448.62,201.45 L449.52,205.95 L450.65,219.46 L451.55,236.34 L452.33,247.59 L453.46,264.48 L455.28,278.88 L457.53,284.51 L458.66,295.76 L459.78,301.39 L462.28,306.79 L464.53,309.04 L466.78,313.54 L469.04,318.7 L471.29,323.86 L473.54,329.02 L475.79,330.1 L478.04,328.51 L480.29,330.1 L492.67,330.1 L494.92,327.73 L497.17,330.1 L510,330.1" fill="none" stroke="#111" stroke-width="1.15" stroke-linejoin="round"/>
<path d="M372.8,192.5 H510.4" fill="none" stroke="#595959" stroke-width="1.2"/>
<path d="M510.0,192.5 V330.5" fill="none" stroke="#767676" stroke-width="1.5"/>
<path d="M372.6,192.5 V331.0" fill="none" stroke="#3a3a3a" stroke-width="1.1"/>
<path d="M372.3,330.5 H510.5" fill="none" stroke="#3a3a3a" stroke-width="1.3"/>
<path d="M369.2,330.5 H372.8 M371.40000000000003,323.94 H372.8 M371.40000000000003,317.39 H372.8 M371.40000000000003,310.83 H372.8 M369.2,304.28 H372.8 M371.40000000000003,297.73 H372.8 M371.40000000000003,291.17 H372.8 M371.40000000000003,284.62 H372.8 M369.2,278.06 H372.8 M371.40000000000003,271.5 H372.8 M371.40000000000003,264.95 H372.8 M371.40000000000003,258.39 H372.8 M369.2,251.84 H372.8 M371.40000000000003,245.28 H372.8 M371.40000000000003,238.73 H372.8 M371.40000000000003,232.18 H372.8 M369.2,225.62 H372.8 M371.40000000000003,219.06 H372.8 M371.40000000000003,212.51 H372.8 M371.40000000000003,205.96 H372.8 M369.2,199.4 H372.8" stroke="#3a3a3a" stroke-width="1"/>
<text x="366.2" y="332.8" text-anchor="end" font-size="6.4" fill="#444">0</text>
<text x="366.2" y="306.58" text-anchor="end" font-size="6.4" fill="#444">20</text>
<text x="366.2" y="280.36" text-anchor="end" font-size="6.4" fill="#444">40</text>
<text x="366.2" y="254.14" text-anchor="end" font-size="6.4" fill="#444">60</text>
<text x="366.2" y="227.92" text-anchor="end" font-size="6.4" fill="#444">80</text>
<text x="366.2" y="201.7" text-anchor="end" font-size="6.4" fill="#444">100</text>
<path d="M372.9,330.5 v3.2 M386.4,330.5 v3.2 M400.9,330.5 v3.2 M434.3,330.5 v3.2 M466.7,330.5 v3.2 M497.3,330.5 v3.2 M394.1,330.5 v1.7 M410.95,330.5 v1.7 M416.84,330.5 v1.7 M421.01,330.5 v1.7 M424.25,330.5 v1.7 M426.89,330.5 v1.7 M429.13,330.5 v1.7 M431.06,330.5 v1.7 M432.77,330.5 v1.7 M444.05,330.5 v1.7 M449.76,330.5 v1.7 M453.81,330.5 v1.7 M456.95,330.5 v1.7 M459.51,330.5 v1.7 M461.68,330.5 v1.7 M463.56,330.5 v1.7 M465.22,330.5 v1.7 M475.91,330.5 v1.7 M481.3,330.5 v1.7 M485.12,330.5 v1.7 M488.09,330.5 v1.7 M490.51,330.5 v1.7 M492.56,330.5 v1.7 M494.33,330.5 v1.7 M495.9,330.5 v1.7 M506.51,330.5 v1.7" stroke="#3a3a3a" stroke-width="0.9"/>
<text x="387.2" y="343.7" text-anchor="middle" font-size="6.8" fill="#444">0</text>
<text x="397.7" y="343.7" font-size="6.8" fill="#444" textLength="5.8" lengthAdjust="spacingAndGlyphs">10</text>
<text x="403.6" y="340.8" font-size="4.4" fill="#444">2</text>
<text x="430" y="343.7" font-size="6.8" fill="#444" textLength="5.8" lengthAdjust="spacingAndGlyphs">10</text>
<text x="435.9" y="340.8" font-size="4.4" fill="#444">3</text>
<text x="462" y="343.7" font-size="6.8" fill="#444" textLength="5.8" lengthAdjust="spacingAndGlyphs">10</text>
<text x="467.9" y="340.8" font-size="4.4" fill="#444">4</text>
<text x="492.4" y="343.7" font-size="6.8" fill="#444" textLength="5.8" lengthAdjust="spacingAndGlyphs">10</text>
<text x="498.3" y="340.8" font-size="4.4" fill="#444">5</text>
<path d="M434.8,238.7 H510.0" stroke="#505050" stroke-width="1.4" fill="none"/>
<path d="M434.8,235.7 v6 M509.7,235.7 v6" stroke="#111" stroke-width="1.1" fill="none"/>
<text x="470.6" y="234.7" text-anchor="middle" font-size="12.3" fill="#2a2a2a">70.3</text>
<text x="448.8" y="258.1" font-size="12.3" fill="#2a2a2a" textLength="53" lengthAdjust="spacingAndGlyphs">MFI=3674</text>
<path d="M552.81,329 L552.81,329 L557.2,326.18 L560.01,318.19 L562.26,309.27 L565.64,300.26 L567.89,294.64 L569.24,290.59 L570.7,298.01 L572.39,304.77 L573.51,299.14 L575.77,289.01 L577.45,280.01 L580.27,275.5 L581.95,267.63 L583.08,262 L583.64,241.52 L584.77,221.26 L585.89,205.5 L587.02,221.26 L588.14,230.26 L589.27,234.77 L590.4,237.02 L591.52,230.26 L592.65,214.51 L593.77,201 L594.9,219.01 L596.02,237.02 L597.15,250.52 L598.27,268.53 L599.4,282.03 L600.52,295.54 L601.65,304.54 L602.77,313.54 L605.03,321.28 L607.28,326.44 L609.53,329 L609.53,329 Z" fill="#b2b2b2" stroke="none"/>
<path d="M535.25,330.1 L535.48,290.14 L535.93,290.14 L536.15,329.02 L536.83,318.7 L537.05,329.02 L538.63,328.25 L542,326.7 L545.38,324.89 L548.76,320.51 L552.13,317.16 L554.38,310.39 L556.63,307.02 L558.32,301.39 L559.45,299.14 L561.14,301.39 L562.82,309.27 L565.64,313.8 L568.45,316.12 L571.26,312.64 L572.84,313.54 L574.64,317.67 L576.33,309.27 L578.02,302.51 L580.27,295.76 L582.52,298.01 L584.77,296.66 L587.02,299.14 L589.83,296.21 L592.65,300.26 L594.33,291.26 L595.46,286.76 L597.15,284.51 L598.84,282.71 L599.4,273.25 L600.52,262 L600.97,246.02 L601.65,248.27 L602.77,243.77 L603.9,225.76 L605.03,210.01 L605.48,214.51 L606.15,207.76 L607.28,210.01 L608.4,206.63 L609.53,203.25 L610.65,201 L611.78,210.01 L612.9,216.76 L613.58,232.51 L614.48,223.51 L615.15,221.26 L615.83,232.51 L616.73,237.02 L617.63,248.27 L618.53,259.52 L619.66,273.03 L620.78,282.03 L621.91,288.78 L623.03,300.04 L624.16,313.54 L625.28,323.86 L627.53,327.73 L629.78,330.1 L643.29,330.1 L645.54,329.02 L647.79,330.1 L673,330.1" fill="none" stroke="#111" stroke-width="1.15" stroke-linejoin="round"/>
<path d="M535.2,192.5 H672.8" fill="none" stroke="#595959" stroke-width="1.2"/>
<path d="M672.4,192.5 V330.5" fill="none" stroke="#767676" stroke-width="1.5"/>
<path d="M535.0,192.5 V331.0" fill="none" stroke="#3a3a3a" stroke-width="1.1"/>
<path d="M534.7,330.5 H672.9" fill="none" stroke="#3a3a3a" stroke-width="1.3"/>
<path d="M531.6,330.5 H535.2 M533.8000000000001,323.94 H535.2 M533.8000000000001,317.39 H535.2 M533.8000000000001,310.83 H535.2 M531.6,304.28 H535.2 M533.8000000000001,297.73 H535.2 M533.8000000000001,291.17 H535.2 M533.8000000000001,284.62 H535.2 M531.6,278.06 H535.2 M533.8000000000001,271.5 H535.2 M533.8000000000001,264.95 H535.2 M533.8000000000001,258.39 H535.2 M531.6,251.84 H535.2 M533.8000000000001,245.28 H535.2 M533.8000000000001,238.73 H535.2 M533.8000000000001,232.18 H535.2 M531.6,225.62 H535.2 M533.8000000000001,219.06 H535.2 M533.8000000000001,212.51 H535.2 M533.8000000000001,205.96 H535.2 M531.6,199.4 H535.2" stroke="#3a3a3a" stroke-width="1"/>
<text x="528.6" y="332.8" text-anchor="end" font-size="6.4" fill="#444">0</text>
<text x="528.6" y="306.58" text-anchor="end" font-size="6.4" fill="#444">20</text>
<text x="528.6" y="280.36" text-anchor="end" font-size="6.4" fill="#444">40</text>
<text x="528.6" y="254.14" text-anchor="end" font-size="6.4" fill="#444">60</text>
<text x="528.6" y="227.92" text-anchor="end" font-size="6.4" fill="#444">80</text>
<text x="528.6" y="201.7" text-anchor="end" font-size="6.4" fill="#444">100</text>
<path d="M535.3,330.5 v3.2 M548.8,330.5 v3.2 M563.3,330.5 v3.2 M596.7,330.5 v3.2 M629.1,330.5 v3.2 M659.7,330.5 v3.2 M556.5,330.5 v1.7 M573.35,330.5 v1.7 M579.24,330.5 v1.7 M583.41,330.5 v1.7 M586.65,330.5 v1.7 M589.29,330.5 v1.7 M591.53,330.5 v1.7 M593.46,330.5 v1.7 M595.17,330.5 v1.7 M606.45,330.5 v1.7 M612.16,330.5 v1.7 M616.21,330.5 v1.7 M619.35,330.5 v1.7 M621.91,330.5 v1.7 M624.08,330.5 v1.7 M625.96,330.5 v1.7 M627.62,330.5 v1.7 M638.31,330.5 v1.7 M643.7,330.5 v1.7 M647.52,330.5 v1.7 M650.49,330.5 v1.7 M652.91,330.5 v1.7 M654.96,330.5 v1.7 M656.73,330.5 v1.7 M658.3,330.5 v1.7 M668.91,330.5 v1.7" stroke="#3a3a3a" stroke-width="0.9"/>
<text x="549.6" y="343.7" text-anchor="middle" font-size="6.8" fill="#444">0</text>
<text x="560.1" y="343.7" font-size="6.8" fill="#444" textLength="5.8" lengthAdjust="spacingAndGlyphs">10</text>
<text x="566" y="340.8" font-size="4.4" fill="#444">2</text>
<text x="592.4" y="343.7" font-size="6.8" fill="#444" textLength="5.8" lengthAdjust="spacingAndGlyphs">10</text>
<text x="598.3" y="340.8" font-size="4.4" fill="#444">3</text>
<text x="624.4" y="343.7" font-size="6.8" fill="#444" textLength="5.8" lengthAdjust="spacingAndGlyphs">10</text>
<text x="630.3" y="340.8" font-size="4.4" fill="#444">4</text>
<text x="654.8" y="343.7" font-size="6.8" fill="#444" textLength="5.8" lengthAdjust="spacingAndGlyphs">10</text>
<text x="660.7" y="340.8" font-size="4.4" fill="#444">5</text>
<path d="M598.7,238.7 H672.4" stroke="#505050" stroke-width="1.4" fill="none"/>
<path d="M598.7,235.7 v6 M672.1,235.7 v6" stroke="#111" stroke-width="1.1" fill="none"/>
<text x="633.8" y="234.7" text-anchor="middle" font-size="12.3" fill="#2a2a2a">62.8</text>
<text x="611.8" y="258.1" font-size="12.3" fill="#2a2a2a" textLength="54" lengthAdjust="spacingAndGlyphs">MFI=2158</text>
<text x="101.3" y="12.4" font-size="12" font-weight="bold" fill="#111" textLength="22.8" lengthAdjust="spacingAndGlyphs">24h</text>
<text x="259.8" y="12.4" font-size="12" font-weight="bold" fill="#111" textLength="23.4" lengthAdjust="spacingAndGlyphs">48h</text>
<text x="430.2" y="12.4" font-size="12" font-weight="bold" fill="#111" textLength="23.8" lengthAdjust="spacingAndGlyphs">72h</text>
<text x="587.7" y="12.4" font-size="12" font-weight="bold" fill="#111" textLength="22.8" lengthAdjust="spacingAndGlyphs">96h</text>
<text x="12" y="14.2" font-size="19.5" font-weight="bold" fill="#111" textLength="10.2" lengthAdjust="spacingAndGlyphs">a</text>
<text x="6.7" y="39.5" font-size="13" font-weight="bold" fill="#111">tol</text>
<text x="6.8" y="57.8" font-size="13" font-weight="bold" fill="#111" textLength="16.7" lengthAdjust="spacingAndGlyphs">DC</text>
<text x="6.7" y="189.1" font-size="12.6" font-weight="bold" fill="#111">C5-</text>
<text x="6.8" y="206.9" font-size="13" font-weight="bold" fill="#111" textLength="16.5" lengthAdjust="spacingAndGlyphs">DC</text>
<path d="M23.5,354.5 V272 M23.5,354.5 H252" stroke="#111" stroke-width="1.6" fill="none"/>
<path d="M23.5,267.6 L19.2,275.8 L23.5,273.9 L27.8,275.8 Z" fill="#111"/>
<path d="M258.6,354.5 L250.4,350.2 L252.3,354.5 L250.4,358.8 Z" fill="#111"/>
<text transform="translate(17.4,351.6) rotate(-90)" font-size="11.6" font-weight="bold" fill="#111" textLength="83" lengthAdjust="spacingAndGlyphs">Event (% of max)</text>
<text x="36.6" y="369.3" font-size="12.2" font-weight="bold" fill="#111" textLength="194.3" lengthAdjust="spacingAndGlyphs">Fluorescence intensity (Porcine MHC-I)</text>
<text x="6.2" y="396.4" font-size="19" font-weight="bold" fill="#111">b</text>
<path d="M44.4,415.39 V600.4 H324.3" stroke="#111" stroke-width="1.7" fill="none"/>
<text x="36.6" y="604.8" text-anchor="end" font-size="14" fill="#1a1a1a" stroke="#1a1a1a" stroke-width="0.3" textLength="13.6" lengthAdjust="spacingAndGlyphs">50</text>
<text x="36.6" y="543.13" text-anchor="end" font-size="14" fill="#1a1a1a" stroke="#1a1a1a" stroke-width="0.3" textLength="13.6" lengthAdjust="spacingAndGlyphs">60</text>
<text x="36.6" y="481.46" text-anchor="end" font-size="14" fill="#1a1a1a" stroke="#1a1a1a" stroke-width="0.3" textLength="13.6" lengthAdjust="spacingAndGlyphs">70</text>
<text x="36.6" y="419.79" text-anchor="end" font-size="14" fill="#1a1a1a" stroke="#1a1a1a" stroke-width="0.3" textLength="13.6" lengthAdjust="spacingAndGlyphs">80</text>
<path d="M38.4,600.4 H44.4 M38.4,538.73 H44.4 M38.4,477.06 H44.4 M38.4,415.39 H44.4 M79.4,600.4 V606.4 M149.3,600.4 V606.4 M219.3,600.4 V606.4 M288.9,600.4 V606.4" stroke="#111" stroke-width="1.6" fill="none"/>
<text x="79.4" y="618.8" text-anchor="middle" font-size="13.9" font-weight="bold" fill="#1a1a1a" textLength="22.8" lengthAdjust="spacingAndGlyphs">24h</text>
<text x="149.3" y="618.8" text-anchor="middle" font-size="13.9" font-weight="bold" fill="#1a1a1a" textLength="22.8" lengthAdjust="spacingAndGlyphs">48h</text>
<text x="219.3" y="618.8" text-anchor="middle" font-size="13.9" font-weight="bold" fill="#1a1a1a" textLength="22.8" lengthAdjust="spacingAndGlyphs">72h</text>
<text x="288.9" y="618.8" text-anchor="middle" font-size="13.9" font-weight="bold" fill="#1a1a1a" textLength="22.8" lengthAdjust="spacingAndGlyphs">96h</text>
<text transform="translate(12.0,610.2) rotate(-90)" font-size="11.6" fill="#1a1a1a" stroke="#1a1a1a" stroke-width="0.3" textLength="205.6" lengthAdjust="spacingAndGlyphs">porcine MHC-I-positive cells (%)</text>
<path d="M79.4,541.81 L149.3,505.43 L219.3,475.21 L288.9,521.46" stroke="#111" stroke-width="2.3" fill="none" stroke-linejoin="round"/>
<circle cx="79.4" cy="541.81" r="4.4" fill="#111"/>
<circle cx="149.3" cy="505.43" r="4.4" fill="#111"/>
<circle cx="219.3" cy="475.21" r="4.4" fill="#111"/>
<circle cx="288.9" cy="521.46" r="4.4" fill="#111"/>
<path d="M79.4,535.65 L149.3,489.39 L219.3,451.16 L288.9,578.2" stroke="#999" stroke-width="2.3" fill="none" stroke-linejoin="round"/>
<rect x="74.7" y="530.95" width="9.4" height="9.4" fill="#999"/>
<rect x="144.6" y="484.69" width="9.4" height="9.4" fill="#999"/>
<rect x="214.6" y="446.46" width="9.4" height="9.4" fill="#999"/>
<rect x="284.2" y="573.5" width="9.4" height="9.4" fill="#999"/>
<path d="M60,428.2 H80.5" stroke="#111" stroke-width="2.6"/><circle cx="70.4" cy="428.2" r="4.3" fill="#111"/>
<path d="M60,445 H80.5" stroke="#999" stroke-width="2.6"/><rect x="65.9" y="440.5" width="9.2" height="9.2" fill="#999"/>
<text x="91.7" y="432.3" font-size="11.4" font-weight="bold" fill="#1a1a1a" textLength="38.6" lengthAdjust="spacingAndGlyphs">C5-DC</text>
<text x="91.7" y="449.3" font-size="11.4" font-weight="bold" fill="#1a1a1a" textLength="32.6" lengthAdjust="spacingAndGlyphs">tolDC</text>
<text x="332.3" y="402.5" font-size="17.5" font-weight="bold" fill="#111">c</text>
<path d="M395.2,419.8 V598.0 H659.8" stroke="#111" stroke-width="1.7" fill="none"/>
<text x="388.5" y="602.1" text-anchor="end" font-size="13" fill="#1a1a1a" stroke="#1a1a1a" stroke-width="0.3" textLength="6.75" lengthAdjust="spacingAndGlyphs">0</text>
<text x="388.5" y="566.46" text-anchor="end" font-size="13" fill="#1a1a1a" stroke="#1a1a1a" stroke-width="0.3" textLength="27" lengthAdjust="spacingAndGlyphs">2000</text>
<text x="388.5" y="530.82" text-anchor="end" font-size="13" fill="#1a1a1a" stroke="#1a1a1a" stroke-width="0.3" textLength="27" lengthAdjust="spacingAndGlyphs">4000</text>
<text x="388.5" y="495.18" text-anchor="end" font-size="13" fill="#1a1a1a" stroke="#1a1a1a" stroke-width="0.3" textLength="27" lengthAdjust="spacingAndGlyphs">6000</text>
<text x="388.5" y="459.54" text-anchor="end" font-size="13" fill="#1a1a1a" stroke="#1a1a1a" stroke-width="0.3" textLength="27" lengthAdjust="spacingAndGlyphs">8000</text>
<text x="388.5" y="423.9" text-anchor="end" font-size="13" fill="#1a1a1a" stroke="#1a1a1a" stroke-width="0.3" textLength="33.75" lengthAdjust="spacingAndGlyphs">10000</text>
<path d="M389.6,598 H395.2 M389.6,562.36 H395.2 M389.6,526.72 H395.2 M389.6,491.08 H395.2 M389.6,455.44 H395.2 M389.6,419.8 H395.2 M428.6,598.0 V603.8 M494.9,598.0 V603.8 M560.5,598.0 V603.8 M626.7,598.0 V603.8" stroke="#111" stroke-width="1.6" fill="none"/>
<text x="428.6" y="616" text-anchor="middle" font-size="12.9" font-weight="bold" fill="#1a1a1a" textLength="22.9" lengthAdjust="spacingAndGlyphs">24h</text>
<text x="494.9" y="616" text-anchor="middle" font-size="12.9" font-weight="bold" fill="#1a1a1a" textLength="22.9" lengthAdjust="spacingAndGlyphs">48h</text>
<text x="560.5" y="616" text-anchor="middle" font-size="12.9" font-weight="bold" fill="#1a1a1a" textLength="22.9" lengthAdjust="spacingAndGlyphs">72h</text>
<text x="626.7" y="616" text-anchor="middle" font-size="12.9" font-weight="bold" fill="#1a1a1a" textLength="22.9" lengthAdjust="spacingAndGlyphs">96h</text>
<text transform="translate(346.0,604.6) rotate(-90)" font-size="11.2" fill="#1a1a1a" stroke="#1a1a1a" stroke-width="0.3" textLength="189.9" lengthAdjust="spacingAndGlyphs">porcine MHC-I expresion (MFI)</text>
<path d="M428.6,548.71 L494.9,552.3 L560.5,533.23 L626.7,560.24" stroke="#111" stroke-width="2.3" fill="none" stroke-linejoin="round"/>
<circle cx="428.6" cy="548.71" r="4.4" fill="#111"/>
<circle cx="494.9" cy="552.3" r="4.4" fill="#111"/>
<circle cx="560.5" cy="533.23" r="4.4" fill="#111"/>
<circle cx="626.7" cy="560.24" r="4.4" fill="#111"/>
<path d="M428.6,553.85 L494.9,514.11 L560.5,461.93 L626.7,567.12" stroke="#999" stroke-width="2.3" fill="none" stroke-linejoin="round"/>
<rect x="423.9" y="549.15" width="9.4" height="9.4" fill="#999"/>
<rect x="490.2" y="509.41" width="9.4" height="9.4" fill="#999"/>
<rect x="555.8" y="457.23" width="9.4" height="9.4" fill="#999"/>
<rect x="622" y="562.42" width="9.4" height="9.4" fill="#999"/>
<path d="M400.9,432.2 H420.3" stroke="#111" stroke-width="2.6"/><circle cx="410.6" cy="432.2" r="4.3" fill="#111"/>
<path d="M400.9,447.5 H420.3" stroke="#999" stroke-width="2.6"/><rect x="406" y="442.9" width="9.2" height="9.2" fill="#999"/>
<text x="430.8" y="436.4" font-size="11.4" font-weight="bold" fill="#1a1a1a" textLength="36.6" lengthAdjust="spacingAndGlyphs">C5-DC</text>
<text x="430.8" y="451.8" font-size="11.4" font-weight="bold" fill="#1a1a1a" textLength="32.6" lengthAdjust="spacingAndGlyphs">tolDC</text>
</svg>
</body></html>
